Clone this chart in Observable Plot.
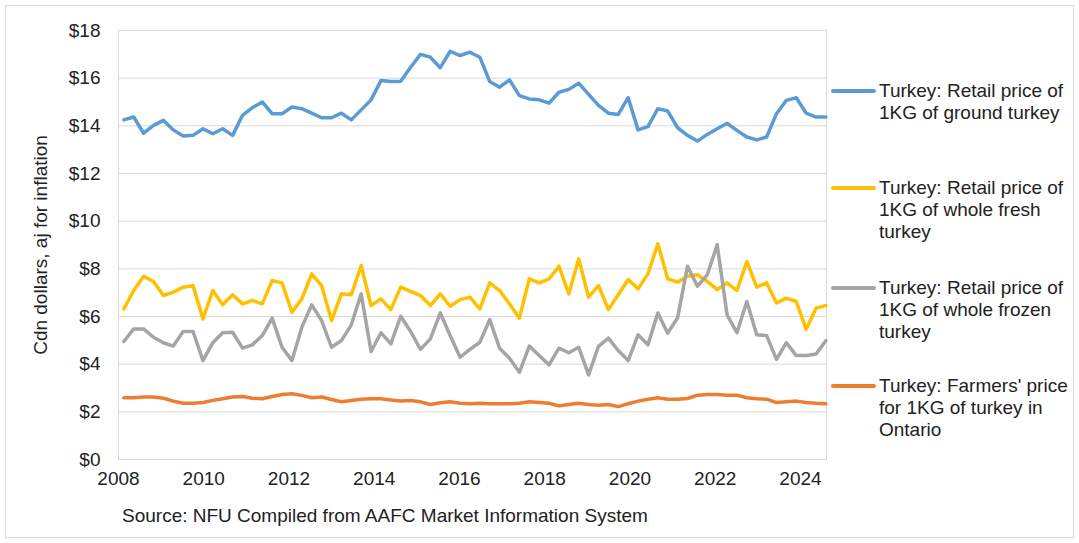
<!DOCTYPE html>
<html>
<head>
<meta charset="utf-8">
<script src="https://cdn.jsdelivr.net/npm/d3@7"></script>
<script src="https://cdn.jsdelivr.net/npm/@observablehq/plot@0.6"></script>
<style>
  html, body { margin: 0; padding: 0; background: #fff; }
  #wrap { position: relative; width: 1079px; height: 543px; overflow: hidden; font-family: "Liberation Sans", Arial, sans-serif; color: #222; }
  #border { position: absolute; left: 5px; top: 5px; width: 1067px; height: 531px; border: 1px solid #d9d9d9; }
  #chart { position: absolute; left: 0; top: 0; }
  #caption { position: absolute; left: 122px; top: 505px; font-size: 19px; white-space: nowrap; }
  .leg { position: absolute; left: 879px; width: 195px; font-size: 19px; line-height: 22px; }
  .sw { position: absolute; left: 831px; width: 45px; height: 3.5px; border-radius: 2px; }
</style>
</head>
<body>
<div id="wrap">
  <div id="border"></div>
  <div id="chart"></div>
  <div id="caption"></div>
</div>
<script>
// ---- data ----
const seriesNames = [
  "Turkey: Retail price of 1KG of ground turkey",
  "Turkey: Retail price of 1KG of whole fresh turkey",
  "Turkey: Retail price of 1KG of whole frozen turkey",
  "Turkey: Farmers' price for 1KG of turkey in Ontario"
];
const legendLines = [
  ["Turkey: Retail price of", "1KG of ground turkey"],
  ["Turkey: Retail price of", "1KG of whole fresh", "turkey"],
  ["Turkey: Retail price of", "1KG of whole frozen", "turkey"],
  ["Turkey: Farmers' price", "for 1KG of turkey in", "Ontario"]
];
const seriesColors = ["#5B9BD5", "#FFC000", "#A5A5A5", "#ED7D31"];

const startYear = 2008.125;   // first observation
const stepYears = 0.232;      // spacing between observations

const groundTurkey = [
  14.25, 14.37, 13.69, 14.02, 14.23, 13.83, 13.57, 13.60, 13.88, 13.67,
  13.88, 13.60, 14.44, 14.76, 15.00, 14.51, 14.51, 14.79, 14.72, 14.53,
  14.34, 14.34, 14.53, 14.25, 14.67, 15.09, 15.90, 15.86, 15.87, 16.46,
  17.00, 16.88, 16.44, 17.13, 16.95, 17.09, 16.88, 15.86, 15.62, 15.93,
  15.27, 15.13, 15.09, 14.95, 15.41, 15.53, 15.79, 15.32, 14.86, 14.53,
  14.48, 15.18, 13.83, 13.97, 14.72, 14.62, 13.92, 13.60, 13.36, 13.64,
  13.88, 14.11, 13.81, 13.53, 13.41, 13.53, 14.51, 15.07, 15.18, 14.53,
  14.37, 14.37
];
const wholeFresh = [
  6.32, 7.09, 7.69, 7.47, 6.88, 7.02, 7.23, 7.30, 5.90, 7.09,
  6.49, 6.91, 6.53, 6.67, 6.53, 7.51, 7.41, 6.18, 6.74, 7.79,
  7.30, 5.83, 6.95, 6.91, 8.14, 6.46, 6.74, 6.29, 7.23, 7.05,
  6.88, 6.46, 6.95, 6.43, 6.71, 6.81, 6.32, 7.41, 7.09, 6.53,
  5.93, 7.58, 7.41, 7.58, 8.11, 6.95, 8.42, 6.81, 7.30, 6.29,
  6.91, 7.55, 7.16, 7.79, 9.05, 7.58, 7.44, 7.69, 7.75, 7.47,
  7.13, 7.41, 7.09, 8.31, 7.23, 7.41, 6.57, 6.77, 6.63, 5.46,
  6.35, 6.46
];
const wholeFrozen = [
  4.95, 5.48, 5.48, 5.13, 4.90, 4.76, 5.37, 5.37, 4.15, 4.90,
  5.32, 5.34, 4.67, 4.81, 5.20, 5.93, 4.71, 4.15, 5.55, 6.49,
  5.83, 4.71, 4.99, 5.65, 6.95, 4.53, 5.32, 4.85, 6.01, 5.37,
  4.62, 5.06, 6.15, 5.20, 4.29, 4.62, 4.92, 5.87, 4.67, 4.25,
  3.66, 4.76, 4.36, 3.97, 4.67, 4.48, 4.71, 3.55, 4.75, 5.09,
  4.57, 4.15, 5.23, 4.81, 6.15, 5.30, 5.95, 8.11, 7.27, 7.75,
  9.01, 6.07, 5.32, 6.63, 5.23, 5.20, 4.20, 4.90, 4.36, 4.36,
  4.43, 4.99
];
const farmersPrice = [
  2.59, 2.59, 2.62, 2.62, 2.57, 2.45, 2.36, 2.36, 2.39, 2.48,
  2.55, 2.62, 2.64, 2.57, 2.55, 2.64, 2.73, 2.76, 2.69, 2.59,
  2.62, 2.52, 2.42, 2.48, 2.53, 2.55, 2.55, 2.50, 2.45, 2.48,
  2.42, 2.31, 2.38, 2.42, 2.36, 2.34, 2.36, 2.34, 2.34, 2.34,
  2.36, 2.42, 2.39, 2.36, 2.25, 2.31, 2.36, 2.31, 2.28, 2.31,
  2.22, 2.34, 2.45, 2.53, 2.59, 2.53, 2.53, 2.56, 2.70, 2.73,
  2.73, 2.70, 2.70, 2.59, 2.55, 2.53, 2.39, 2.42, 2.45, 2.39,
  2.36, 2.34
];
const xTickLabels = [2008, 2010, 2012, 2014, 2016, 2018, 2020, 2022, 2024];
const yTickValues = [0, 2, 4, 6, 8, 10, 12, 14, 16, 18];
const yTitle = "Cdn dollars, aj for inflation";
const captionText = "Source: NFU Compiled from AAFC Market Information System";

// ---- build table ----
const allSeries = [groundTurkey, wholeFresh, wholeFrozen, farmersPrice];
const rows = [];
allSeries.forEach((vals, k) => {
  vals.forEach((v, i) => rows.push({date: startYear + i * stepYears, value: v, series: seriesNames[k]}));
});

const chart = Plot.plot({
  width: 1079,
  height: 500,
  marginTop: 30,
  marginBottom: 41,
  marginLeft: 118,
  marginRight: 253,
  style: {fontFamily: "'Liberation Sans', Arial, sans-serif", fontSize: "19px", color: "#222", background: "transparent", overflow: "visible"},
  x: {domain: [2008, 2024.61]},
  y: {domain: [0, 18]},
  color: {domain: seriesNames, range: seriesColors},
  marks: [
    Plot.gridY(yTickValues, {stroke: "#d9d9d9", strokeOpacity: 1, strokeWidth: 1}),
    Plot.frame({stroke: "#d9d9d9", strokeWidth: 1}),
    Plot.axisY(yTickValues, {tickSize: 0, tickPadding: 18, tickFormat: d => "$" + d, label: yTitle, labelArrow: "none", labelAnchor: "center", labelOffset: 85, fill: "#222"}),
    Plot.axisX(xTickLabels, {tickSize: 0, tickPadding: 12, tickFormat: d => String(d), label: null, fill: "#222"}),
    Plot.line(rows, {x: "date", y: "value", z: "series", stroke: "series", strokeWidth: 3.5, strokeLinejoin: "round", strokeLinecap: "round"})
  ]
});
document.getElementById("chart").appendChild(chart);
document.getElementById("caption").textContent = captionText;

// ---- legend (HTML, right side) ----
const legTops = [80, 177, 277, 375];
const wrap = document.getElementById("wrap");
legendLines.forEach((lines, k) => {
  const d = document.createElement("div");
  d.className = "leg";
  d.style.top = legTops[k] + "px";
  d.innerHTML = lines.map(s => s.replace(/&/g, "&amp;").replace(/</g, "&lt;")).join("<br>");
  wrap.appendChild(d);
  const sw = document.createElement("div");
  sw.className = "sw";
  sw.style.top = (legTops[k] + 11 - 1.75) + "px";
  sw.style.background = seriesColors[k];
  wrap.appendChild(sw);
});
</script>
</body>
</html>
